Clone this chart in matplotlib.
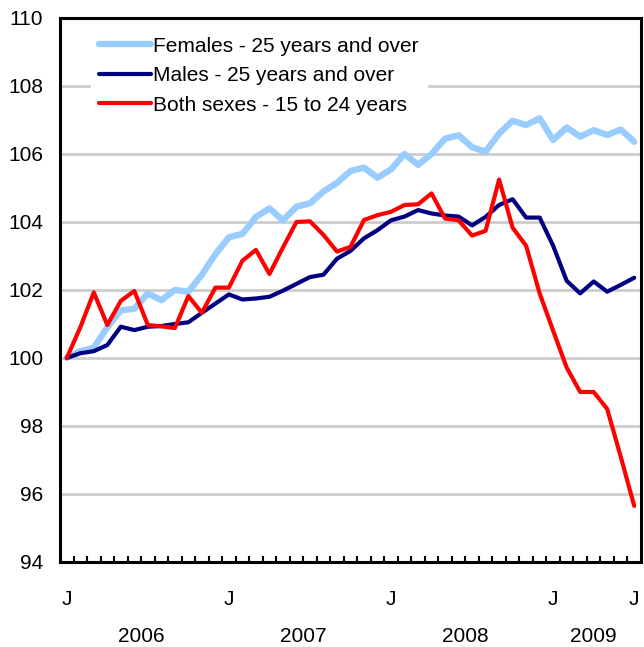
import numpy as np
import matplotlib.pyplot as plt
from matplotlib.transforms import blended_transform_factory

plt.rcParams['font.family'] = ['Liberation Sans', 'DejaVu Sans']

# monthly index, Jan 2006 = 100 (Jan 2006 .. Jul 2009)
females_25 = [100.0, 100.2, 100.3, 100.9, 101.4, 101.45, 101.9, 101.7, 102.0, 101.95,
              102.45, 103.05, 103.55, 103.65, 104.15, 104.4, 104.05, 104.45, 104.55, 104.9,
              105.15, 105.5, 105.6, 105.3, 105.55, 106.0, 105.68, 106.0, 106.45, 106.55,
              106.2, 106.07, 106.6, 106.98, 106.85, 107.05, 106.41, 106.78, 106.51, 106.7,
              106.56, 106.72, 106.36]
males_25 = [100.0, 100.14, 100.2, 100.38, 100.92, 100.82, 100.92, 100.94, 101.0, 101.05,
            101.33, 101.6, 101.87, 101.72, 101.75, 101.8, 101.98, 102.18, 102.38, 102.45,
            102.92, 103.15, 103.52, 103.76, 104.05, 104.16, 104.35, 104.25, 104.19, 104.16,
            103.9, 104.15, 104.5, 104.67, 104.13, 104.13, 103.3, 102.27, 101.9, 102.25,
            101.95, 102.15, 102.36]
youth_15_24 = [100.0, 100.9, 101.93, 100.97, 101.68, 101.97, 100.97, 100.93, 100.88, 101.82,
               101.33, 102.07, 102.07, 102.86, 103.18, 102.47, 103.25, 104.0, 104.02, 103.62,
               103.13, 103.27, 104.06, 104.2, 104.3, 104.5, 104.52, 104.84, 104.1, 104.05,
               103.6, 103.74, 105.25, 103.83, 103.3, 101.9, 100.8, 99.72, 99.0, 99.0,
               98.5, 97.1, 95.65]

month_ticks = [0, 12, 24, 36, 42]
month_labels = ["J", "J", "J", "J", "J"]
years = ["2006", "2007", "2008", "2009"]
year_pos = [5.5, 17.5, 29.5, 39.0]

x = np.arange(len(females_25))

fig = plt.figure(figsize=(6.44, 6.47), dpi=100)
ax = fig.add_axes([0.0932, 0.1314, 0.9021, 0.8408])

ax.plot(x, females_25, color="#99ccff", lw=4.6, solid_capstyle="round",
        label="Females - 25 years and over", zorder=3)
ax.plot(x, males_25, color="#000080", lw=3.0, solid_capstyle="round",
        label="Males - 25 years and over", zorder=4)
ax.plot(x, youth_15_24, color="#ff0000", lw=3.0, solid_capstyle="round",
        label="Both sexes - 15 to 24 years", zorder=5)

ax.set_xlim(-0.5, len(x) - 0.5)
ax.set_ylim(94, 110)
ax.set_yticks(np.arange(94, 111, 2))
ax.yaxis.grid(True, color="#cccccc", lw=2)
ax.set_axisbelow(True)
ax.tick_params(axis="y", length=0, labelsize=15, pad=12)

ax.set_xticks(month_ticks)
ax.set_xticklabels(month_labels)
ax.set_xticks(np.arange(0.5, len(x) - 0.5, 1), minor=True)
ax.tick_params(axis="x", which="major", length=0, labelsize=15, pad=20)
ax.tick_params(axis="x", which="minor", direction="in", length=4, width=1.5)

for s in ax.spines.values():
    s.set_linewidth(2.2)
    s.set_color("black")

tr = blended_transform_factory(ax.transData, ax.transAxes)
for yr, p in zip(years, year_pos):
    ax.text(p, -0.137, yr, transform=tr, ha="center", va="center", fontsize=15)

leg = ax.legend(loc="upper left", bbox_to_anchor=(0.035, 1.0), fontsize=15,
                frameon=True, fancybox=False, handlelength=2.5, handletextpad=0.1,
                labelspacing=0.5, borderpad=0.4)
leg.get_frame().set_edgecolor("white")
leg.get_frame().set_facecolor("white")
leg.get_frame().set_alpha(1)

fig.savefig("out.png", dpi=100)
